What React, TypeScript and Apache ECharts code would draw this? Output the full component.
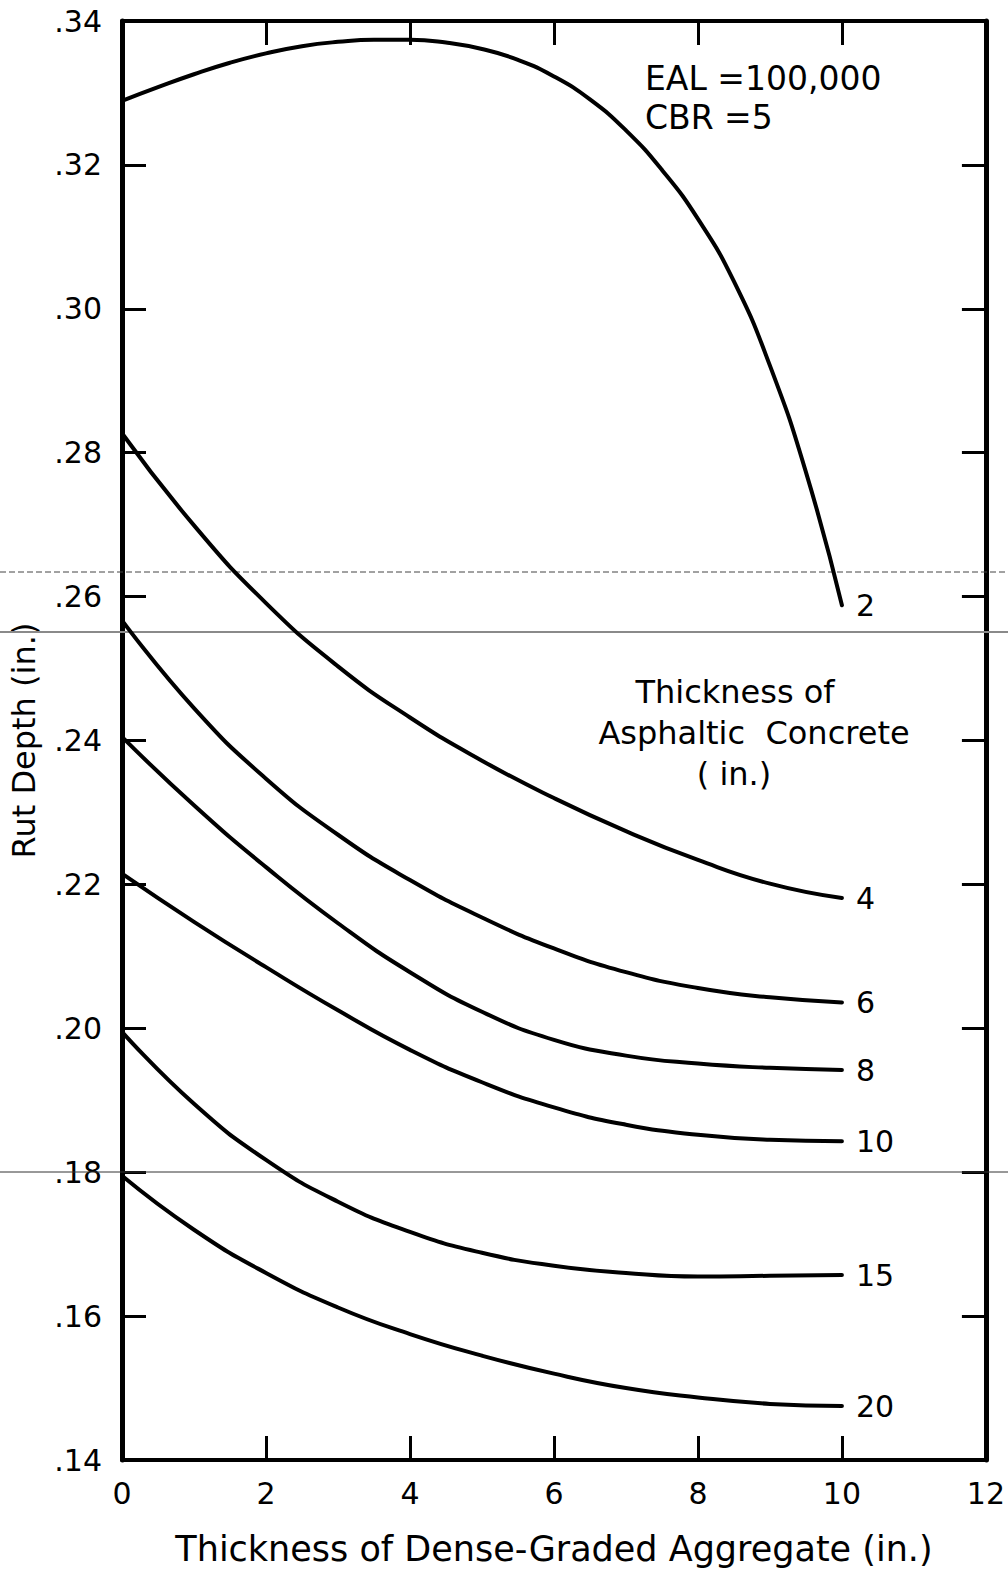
import React, { useEffect, useRef } from "react";
import * as echarts from "echarts";

const FONT = '"DejaVu Sans", sans-serif';

// Thickness of dense-graded aggregate (in.)
const xCoarse = [0, 1, 2, 3, 4, 5, 6, 7, 8, 9, 10];
const xFine = [0, 0.5, 1, 1.5, 2, 2.5, 3, 3.5, 4, 4.5, 5, 5.5, 6, 6.5, 7, 7.5, 8, 8.5, 9, 9.5, 10];
// Rut depth (in.) per asphaltic concrete thickness
const ac2 = [
  0.3289, 0.3308, 0.3326, 0.3342, 0.3355, 0.3365, 0.3371, 0.3374, 0.3374, 0.337, 0.3361,
  0.3346, 0.3323, 0.3291, 0.3248, 0.3193, 0.3125, 0.3038, 0.2921, 0.2773, 0.2588,
];
const ac4 = [0.2827, 0.2699, 0.2591, 0.2503, 0.2432, 0.2372, 0.232, 0.2274, 0.2234, 0.2201, 0.2181];
const ac6 = [0.2567, 0.2445, 0.2347, 0.2269, 0.2206, 0.2154, 0.2111, 0.2078, 0.2056, 0.2043, 0.2036];
const ac8 = [0.2405, 0.231, 0.2224, 0.2146, 0.2078, 0.2023, 0.1984, 0.1962, 0.1951, 0.1945, 0.1942];
const ac10 = [0.2215, 0.2148, 0.2085, 0.2025, 0.197, 0.1925, 0.189, 0.1866, 0.1852, 0.1845, 0.1843];
const ac15 = [0.1995, 0.1895, 0.1817, 0.1759, 0.1717, 0.1688, 0.167, 0.166, 0.1655, 0.1656, 0.1657];
const ac20 = [0.1795, 0.172, 0.166, 0.1612, 0.1575, 0.1545, 0.152, 0.15, 0.1487, 0.1478, 0.1475];

const seriesNames = ["2", "4", "6", "8", "10", "15", "20"];
const seriesValues = [ac2, ac4, ac6, ac8, ac10, ac15, ac20];
const seriesX = [xFine, xCoarse, xCoarse, xCoarse, xCoarse, xCoarse, xCoarse];

const xTicks = { min: 0, max: 12, interval: 2 };
const yTicks = { min: 0.14, max: 0.34, interval: 0.02 };

const xTitle = "Thickness of Dense-Graded Aggregate (in.)";
const yTitle = "Rut Depth (in.)";
const noteLines = ["EAL =100,000", "CBR =5"];
const legendTitle = ["Thickness of", "Asphaltic  Concrete", "( in.)"];

export default function App() {
  const ref = useRef<HTMLDivElement>(null);

  useEffect(() => {
    if (!ref.current) return;
    const chart = echarts.init(ref.current, undefined, { renderer: "svg" });

    const axisLine = (w: number) => ({
      show: true,
      onZero: false,
      lineStyle: { color: "#000", width: w },
    });
    const tick = { show: true, inside: true, length: 24, lineStyle: { color: "#000", width: 3 } };

    const series = seriesNames.map((name, i) => ({
      name,
      type: "line",
      data: seriesX[i].map((x, j) => [x, seriesValues[i][j]]),
      smooth: 0.5,
      showSymbol: false,
      symbol: "none",
      lineStyle: { color: "#000", width: 4, cap: "round" },
      endLabel: {
        show: true,
        formatter: "{a}",
        distance: 14,
        fontSize: 30,
        fontFamily: FONT,
        color: "#000",
      },
      z: 3,
    }));

    const option = {
      animation: false,
      backgroundColor: "#fff",
      grid: { left: 122, right: 19, top: 21, bottom: 114, containLabel: false },
      xAxis: [
        {
          type: "value",
          ...xTicks,
          position: "bottom",
          axisLine: axisLine(4),
          axisTick: tick,
          axisLabel: { margin: 18, fontSize: 30, color: "#000", fontFamily: FONT },
          splitLine: { show: false },
          name: xTitle,
          nameLocation: "middle",
          nameGap: 71,
          nameTextStyle: { fontSize: 35, color: "#000", fontFamily: FONT },
        },
        {
          type: "value",
          ...xTicks,
          position: "top",
          axisLine: axisLine(4),
          axisTick: tick,
          axisLabel: { show: false },
          splitLine: { show: false },
        },
      ],
      yAxis: [
        {
          type: "value",
          ...yTicks,
          position: "left",
          axisLine: axisLine(5),
          axisTick: tick,
          axisLabel: {
            margin: 20,
            fontSize: 30,
            color: "#000",
            fontFamily: FONT,
            formatter: (v: number) => v.toFixed(2).replace(/^0/, ""),
          },
          splitLine: { show: false },
          name: yTitle,
          nameLocation: "middle",
          nameGap: 82,
          nameRotate: 90,
          nameTextStyle: { fontSize: 32, color: "#000", fontFamily: FONT },
        },
        {
          type: "value",
          ...yTicks,
          position: "right",
          axisLine: axisLine(5),
          axisTick: tick,
          axisLabel: { show: false },
          splitLine: { show: false },
        },
      ],
      series,
      graphic: [
        {
          type: "line",
          shape: { x1: 0, y1: 572, x2: 1008, y2: 572 },
          style: { stroke: "#444", lineWidth: 1, lineDash: [6, 3] },
          z: 1,
        },
        {
          type: "line",
          shape: { x1: 0, y1: 632, x2: 1008, y2: 632 },
          style: { stroke: "#8a8a8a", lineWidth: 2 },
          z: 1,
        },
        {
          type: "line",
          shape: { x1: 0, y1: 1172, x2: 1008, y2: 1172 },
          style: { stroke: "#333", lineWidth: 1 },
          z: 1,
        },
        ...noteLines.map((t, i) => ({
          type: "text",
          x: 645,
          y: 78 + i * 39,
          style: {
            text: t,
            fontSize: 33,
            fontFamily: FONT,
            fill: "#000",
            align: "left",
            verticalAlign: "middle",
          },
        })),
        ...legendTitle.map((t, i) => ({
          type: "text",
          x: [735, 754, 734][i],
          y: 692 + i * 41,
          style: {
            text: t,
            fontSize: 32,
            fontFamily: FONT,
            fill: "#000",
            align: "center",
            verticalAlign: "middle",
          },
        })),
      ],
    };

    chart.setOption(option as any);
    return () => chart.dispose();
  }, []);

  return (
    <div
      ref={ref}
      style={{ position: "absolute", left: 0, top: 0, width: 1008, height: 1574 }}
    />
  );
}
